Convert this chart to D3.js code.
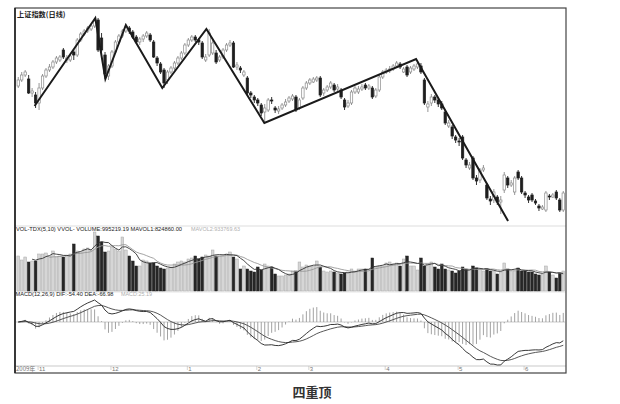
<!DOCTYPE html>
<html><head><meta charset="utf-8">
<script src="https://cdn.jsdelivr.net/npm/d3@7"></script>
<style>body{margin:0;background:#fff}svg{display:block}</style>
</head><body>
<svg id="c" width="620" height="404"></svg>
<script>
const openP = [3088,3112,3132,3116,3060,3052,3020,3080,3128,3152,
3164,3184,3192,3232,3192,3192,3224,3212,3272,3296,
3308,3316,3328,3352,3280,3212,3128,3168,3224,3264,
3288,3308,3320,3304,3284,3264,3276,3288,3292,3264,
3200,3176,3152,3112,3144,3160,3180,3200,3220,3252,
3272,3284,3272,3260,3192,3212,3220,3220,3192,3204,
3232,3252,3260,3164,3160,3132,3120,3060,3044,3032,
3012,2984,2992,3032,3000,2988,3000,3012,3028,3036,
3044,3000,3040,3080,3100,3104,3112,3120,3060,3072,
3084,3092,3076,3072,3032,3008,3020,3064,3064,3076,
3092,3080,3080,3048,3072,3124,3144,3148,3156,3168,
3176,3144,3164,3144,3156,3164,3168,3112,3004,3020,
3044,3032,3016,2984,2928,2924,2884,2868,2884,2792,
2760,2800,2720,2712,2752,2692,2636,2632,2644,2624,
2672,2720,2692,2664,2744,2720,2660,2644,2652,2628,
2608,2596,2592,2648,2644,2664,2632,2592];
const closeP = [3112,3132,3144,3060,3068,3020,3080,3128,3152,3164,
3184,3200,3204,3204,3200,3208,3212,3272,3296,3308,
3320,3328,3348,3232,3232,3136,3168,3224,3264,3288,
3308,3324,3308,3284,3264,3276,3288,3300,3272,3204,
3180,3144,3100,3144,3160,3180,3200,3220,3252,3272,
3284,3272,3264,3204,3204,3300,3260,3184,3204,3232,
3252,3260,3164,3172,3152,3144,3060,3052,3032,3020,
2980,3000,3032,3028,2992,2996,3012,3024,3040,3048,
2992,3032,3080,3100,3112,3116,3120,3052,3072,3084,
3100,3072,3084,3044,3004,3020,3064,3080,3076,3084,
3080,3088,3044,3072,3124,3144,3152,3156,3168,3180,
3164,3156,3132,3160,3168,3176,3144,3020,3016,3044,
3032,3016,3000,2940,2940,2888,2872,2864,2800,2772,
2772,2720,2708,2752,2760,2640,2628,2664,2624,2632,
2732,2692,2700,2720,2720,2664,2652,2632,2632,2620,
2600,2604,2660,2644,2652,2640,2592,2660];
const highP = [3124,3144,3152,3132,3080,3064,3100,3136,3160,3176,
3192,3208,3212,3240,3212,3216,3232,3280,3304,3316,
3328,3336,3360,3360,3300,3224,3176,3232,3272,3296,
3316,3332,3328,3312,3292,3284,3296,3308,3300,3272,
3208,3184,3160,3152,3168,3188,3208,3228,3260,3280,
3292,3292,3280,3268,3216,3316,3272,3232,3212,3240,
3260,3272,3268,3184,3168,3152,3128,3068,3052,3040,
3020,3016,3040,3044,3008,3008,3020,3036,3048,3056,
3052,3040,3088,3108,3120,3124,3128,3128,3080,3092,
3108,3100,3096,3080,3040,3032,3072,3088,3088,3096,
3100,3096,3088,3080,3132,3152,3160,3168,3176,3188,
3184,3164,3172,3168,3176,3192,3180,3120,3028,3056,
3052,3040,3028,2992,2952,2932,2892,2880,2892,2800,
2784,2808,2732,2760,2772,2700,2648,2676,2652,2648,
2744,2728,2712,2728,2752,2728,2668,2652,2660,2636,
2616,2612,2668,2656,2660,2672,2640,2668];
const lowP = [3080,3104,3124,3056,3044,3000,2992,3072,3120,3144,
3156,3176,3184,3196,3180,3184,3192,3204,3264,3288,
3300,3308,3320,3224,3224,3116,3112,3160,3216,3256,
3280,3300,3296,3276,3256,3252,3264,3280,3264,3200,
3168,3136,3080,3096,3136,3152,3172,3192,3212,3244,
3264,3264,3252,3196,3184,3204,3212,3176,3184,3196,
3224,3244,3160,3152,3140,3124,3052,3040,3020,3008,
2968,2944,2984,3016,2980,2976,2992,3004,3020,3028,
2984,2992,3032,3072,3092,3100,3104,3044,3048,3064,
3076,3064,3068,3036,2992,3000,3012,3056,3056,3068,
3072,3072,3036,3040,3064,3116,3136,3140,3148,3160,
3156,3140,3124,3136,3148,3156,3136,3012,2984,3008,
3020,3004,2992,2932,2920,2876,2860,2848,2792,2760,
2752,2712,2692,2700,2744,2632,2612,2620,2612,2576,
2660,2680,2684,2652,2712,2656,2640,2620,2624,2612,
2588,2592,2584,2632,2640,2632,2584,2584];
const volume = [1750,1550,1700,1450,1500,1500,1850,1850,1900,1750,
2000,1700,1750,1700,1750,1850,2350,2000,1950,2100,
2150,2050,2950,2750,2450,1950,2000,2200,2100,2000,
2700,2050,1750,1500,1250,1250,1550,1500,1400,1400,
1250,1150,1100,1150,1200,1350,1450,1500,1450,1600,
1650,1750,1600,1700,1800,1750,2050,1750,1750,1750,
1850,1950,1700,1600,1100,1250,1100,1000,950,1200,
1050,1350,1250,1200,850,750,750,800,850,1000,
1000,1450,1200,1300,1250,1250,1500,1200,1000,950,
1000,950,900,850,900,950,1100,1000,1100,1100,
1100,1100,1650,1200,1250,1250,1400,1450,1350,1400,
1250,1600,1750,1250,1250,1050,1650,1250,1350,1450,
1200,1100,1350,1100,1050,1000,900,1000,1200,1100,
1050,1250,1150,1100,1000,1100,1000,1000,850,950,
1400,1100,1000,1000,1150,1000,1000,950,950,850,
800,850,1250,950,800,650,900,1000];
const pivotIdx = [4.7,22.2,25.1,31,41.5,54.2,70.9,114.6,141.1];
const pivotPrice = [3008,3360,3116,3332,3080,3316,2940,3196,2548];
const monthIdx = [6,27,49,69,84,106,127,146];
const monthLabels = ["11","12","1","2","3","4","5","6"];
const yearLabel = "2009年";
const titleText = "上证指数(日线)";
const volLabel = "VOL-TDX(5,10) VVOL-  VOLUME:995219.19 MAVOL1:824860.00";
const volLabel2 = "MAVOL2:933769.63";
const macdLabel = "MACD(12,26,9) DIF:-54.40 DEA:-66.98";
const macdLabel2 = "MACD:25.19";
const caption = "四重顶";

const svg = d3.select("#c");
const n = closeP.length;
const idx = d3.range(n);
const x = d3.scaleLinear().domain([-0.5, n - 0.5]).range([16.5, 565]);
const yP = d3.scaleLinear().domain([2532, 3400]).range([225, 8]);
const yV = d3.scaleLinear().domain([0, 3000]).range([291, 231]);
const bw = 2.4;

svg.append("rect").attr("width",620).attr("height",404).attr("fill","#fff");

// separators
[[226,"#d4d4d4"],[292,"#e0e0e0"],[366,"#bbb"]].forEach(([yy,c])=>{
  svg.append("line").attr("x1",15).attr("x2",566).attr("y1",yy).attr("y2",yy).attr("stroke",c).attr("stroke-width",0.8);
});

// candles
const cg = svg.append("g");
idx.forEach(i=>{
  const up = closeP[i] >= openP[i];
  const cx = x(i);
  const col = up ? "#8a8a8a" : "#1e1e1e";
  cg.append("line").attr("x1",cx).attr("x2",cx).attr("y1",yP(highP[i])).attr("y2",yP(lowP[i]))
    .attr("stroke",col).attr("stroke-width",0.9);
  const t = yP(Math.max(openP[i],closeP[i])), b = yP(Math.min(openP[i],closeP[i]));
  cg.append("rect").attr("x",cx-bw/2).attr("y",t).attr("width",bw).attr("height",Math.max(0.8,b-t))
    .attr("fill", up ? "#fff" : "#1e1e1e").attr("stroke", col).attr("stroke-width",0.7);
});

// zigzag pattern line
const zz = d3.line().x((d,i)=>x(pivotIdx[i])).y((d,i)=>yP(pivotPrice[i]));
svg.append("path").attr("d", zz(pivotIdx)).attr("fill","none").attr("stroke","#1a1a1a")
  .attr("stroke-width",2).attr("stroke-linejoin","miter");

// volume
const vg = svg.append("g");
idx.forEach(i=>{
  const up = closeP[i] >= openP[i];
  vg.append("rect").attr("x",x(i)-1.35).attr("y",yV(volume[i])).attr("width",2.7)
    .attr("height",yV(0)-yV(volume[i]))
    .attr("fill", up ? "#d6d6d6" : "#262626").attr("stroke", up ? "#a8a8a8" : "#262626").attr("stroke-width",0.5);
});
function ma(arr, k){ return arr.map((v,i)=> i<k-1 ? null : d3.mean(arr.slice(i-k+1,i+1))); }
const mv5 = ma(volume,5), mv10 = ma(volume,10);
const lv = (arr)=> d3.line().defined(d=>d!==null).x((d,i)=>x(i)).y(d=>yV(d))(arr);
svg.append("path").attr("d", lv(mv10)).attr("fill","none").attr("stroke","#999").attr("stroke-width",0.9);
svg.append("path").attr("d", lv(mv5)).attr("fill","none").attr("stroke","#333").attr("stroke-width",0.9);

// MACD
function ema(arr,k){ const a=2/(k+1); const out=[]; arr.forEach((v,i)=>out.push(i===0? v : out[i-1]*(1-a)+v*a)); return out; }
const e12 = ema(closeP,12), e26 = ema(closeP,26);
const dif = closeP.map((d,i)=>e12[i]-e26[i]);
const dea = ema(dif,9);
const hist = dif.map((d,i)=>2*(d-dea[i]));
const ext = d3.extent(dif.concat(dea, hist));
const yM = d3.scaleLinear().domain(ext).range([365, 300]);
const mg = svg.append("g");
mg.append("line").attr("x1",16).attr("x2",565).attr("y1",yM(0)).attr("y2",yM(0)).attr("stroke","#aaa").attr("stroke-width",0.6);
idx.forEach(i=>{
  mg.append("line").attr("x1",x(i)).attr("x2",x(i)).attr("y1",yM(0)).attr("y2",yM(hist[i]))
    .attr("stroke","#8c8c8c").attr("stroke-width",0.8);
});
const lm = d3.line().x((d,i)=>x(i)).y(d=>yM(d));
mg.append("path").attr("d", lm(dea)).attr("fill","none").attr("stroke","#444").attr("stroke-width",0.9);
mg.append("path").attr("d", lm(dif)).attr("fill","none").attr("stroke","#222").attr("stroke-width",0.9);

// frame
svg.append("rect").attr("x",15).attr("y",8).attr("width",551).attr("height",365)
  .attr("fill","none").attr("stroke","#444").attr("stroke-width",1.2);
svg.append("line").attr("x1",15).attr("x2",15).attr("y1",8).attr("y2",373).attr("stroke","#222").attr("stroke-width",1.6);

// texts
const F = "'Liberation Sans', Arial, sans-serif";
svg.append("text").attr("x",17).attr("y",17).text(titleText)
  .attr("font-family","'Noto Sans CJK SC', sans-serif").attr("font-size",7.2).attr("font-weight",700).attr("fill","#222");
svg.append("text").attr("x",16).attr("y",231).text(volLabel).attr("font-family",F).attr("font-size",6.2)
  .attr("fill","#222").attr("textLength",166).attr("lengthAdjust","spacingAndGlyphs");
svg.append("text").attr("x",191).attr("y",231).text(volLabel2).attr("font-family",F).attr("font-size",6.2)
  .attr("fill","#b0b0b0").attr("textLength",49).attr("lengthAdjust","spacingAndGlyphs");
svg.append("text").attr("x",15.5).attr("y",296).text(macdLabel).attr("font-family",F).attr("font-size",6.2)
  .attr("fill","#222").attr("textLength",98).attr("lengthAdjust","spacingAndGlyphs");
svg.append("text").attr("x",121).attr("y",296).text(macdLabel2).attr("font-family",F).attr("font-size",6.2)
  .attr("fill","#b0b0b0").attr("textLength",31).attr("lengthAdjust","spacingAndGlyphs");

// date axis
svg.append("text").attr("x",16).attr("y",371).text(yearLabel).attr("font-family","'Noto Sans CJK SC', sans-serif")
  .attr("font-size",6).attr("fill","#777");
monthIdx.forEach((m,k)=>{
  svg.append("line").attr("x1",x(m)-1).attr("x2",x(m)-1).attr("y1",366).attr("y2",370).attr("stroke","#bbb").attr("stroke-width",0.6);
  svg.append("text").attr("x",x(m)).attr("y",371).text(monthLabels[k]).attr("font-family",F)
    .attr("font-size",6).attr("fill","#777");
});

// caption
svg.append("text").attr("x",312).attr("y",397).attr("text-anchor","middle").text(caption)
  .attr("font-family","'Noto Sans CJK SC', sans-serif").attr("font-size",13).attr("font-weight",700).attr("fill","#333");
</script>
</body></html>
